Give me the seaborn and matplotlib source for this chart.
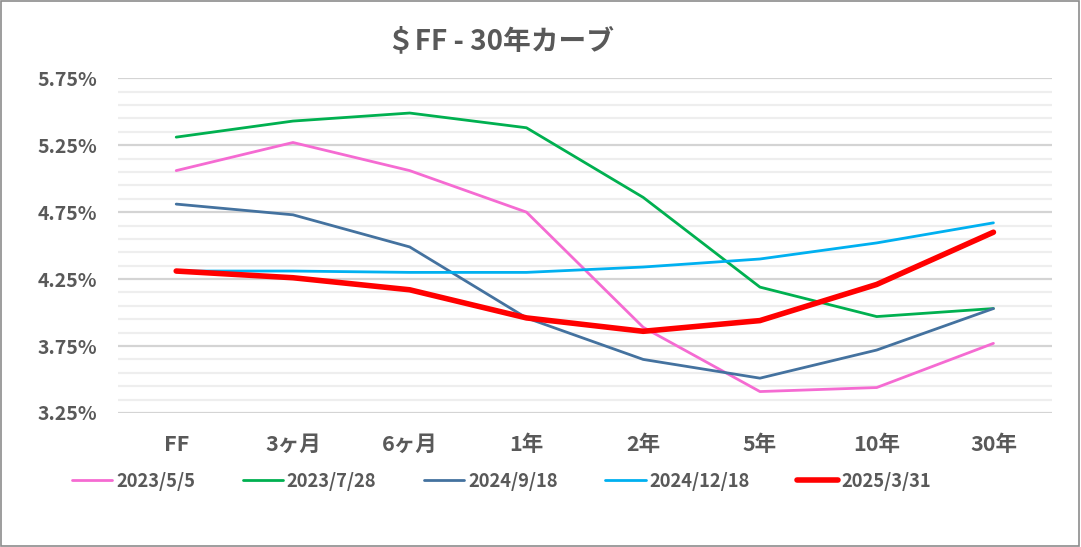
import pandas as pd
import numpy as np
import matplotlib
matplotlib.use('Agg')
import matplotlib.pyplot as plt
import seaborn as sns

# Data
tenors = ['FF', '3ヶ月', '6ヶ月', '1年', '2年', '5年', '10年', '30年']
dates = ['2023/5/5', '2023/7/28', '2024/9/18', '2024/12/18', '2025/3/31']
curve_20230505 = [5.06, 5.27, 5.06, 4.75, 3.89, 3.41, 3.44, 3.77]
curve_20230728 = [5.31, 5.43, 5.49, 5.38, 4.86, 4.19, 3.97, 4.03]
curve_20240918 = [4.81, 4.73, 4.49, 3.96, 3.65, 3.51, 3.72, 4.03]
curve_20241218 = [4.31, 4.31, 4.30, 4.30, 4.34, 4.40, 4.52, 4.67]
curve_20250331 = [4.31, 4.26, 4.17, 3.96, 3.86, 3.94, 4.21, 4.60]
colors = ['#F56BD2', '#00B050', '#44729F', '#00B0F0', '#FF0000']
widths = [2.0, 2.0, 2.0, 2.0, 4.0]

curves = [curve_20230505, curve_20230728, curve_20240918, curve_20241218, curve_20250331]
rows = []
for d, c in zip(dates, curves):
    for i, (t, v) in enumerate(zip(tenors, c)):
        rows.append({'date': d, 'pos': i, 'tenor': t, 'rate': v})
df = pd.DataFrame(rows)

sns.set_style('white')
plt.rcParams['font.family'] = ['Noto Sans CJK JP', 'DejaVu Sans']
text_color = '#595959'

fig = plt.figure(figsize=(10.81, 5.47), dpi=100)
ax = fig.add_axes([0.109, 0.245, 0.864, 0.612])

# grid lines
for v in np.arange(3.25, 5.76, 0.1):
    major = abs(((v - 3.25) / 0.5) - round((v - 3.25) / 0.5)) < 1e-6
    ax.axhline(v, color='#D4D4D4' if major else '#EEEEEE', lw=1.6, zorder=0)

sns.lineplot(data=df, x='pos', y='rate', hue='date', hue_order=dates,
             palette=colors, size='date', sizes=dict(zip(dates, widths)),
             legend=False, ax=ax, zorder=3)

ax.set_xlim(-0.5, 7.5)
ax.set_ylim(3.25, 5.75)
ax.set_xticks(range(len(tenors)))
ax.set_xticklabels(tenors)
ax.set_yticks(np.arange(3.25, 5.76, 0.5))
ax.set_yticklabels([f'{v:.2f}%' for v in np.arange(3.25, 5.76, 0.5)])
ax.tick_params(axis='both', length=0, labelcolor=text_color)
ax.tick_params(axis='y', pad=15, labelsize=14)
ax.tick_params(axis='x', pad=15, labelsize=15.5)
for lab in ax.get_xticklabels() + ax.get_yticklabels():
    lab.set_fontweight('bold')
ax.set_xlabel('')
ax.set_ylabel('')
for s in ax.spines.values():
    s.set_visible(False)

# legend
handles = [plt.Line2D([], [], color=c, lw=w) for c, w in zip(colors, widths)]
leg = fig.legend(handles, dates, loc='center', bbox_to_anchor=(0.464, 0.12), ncol=5,
                 frameon=False, handlelength=2.2, handletextpad=0.2, columnspacing=2.6,
                 prop={'size': 13.2, 'weight': 'bold'})
for t in leg.get_texts():
    t.set_color(text_color)

fig.text(0.463, 0.925, '＄FF - 30年カーブ', ha='center', va='center',
         fontsize=20, fontweight='bold', color=text_color)

# outer border
fig.patches.append(plt.Rectangle((0.001, 0.002), 0.997, 0.996, transform=fig.transFigure,
                                 fill=False, edgecolor='#8C8C8C', lw=1.2))

fig.savefig('out.png', dpi=100)
